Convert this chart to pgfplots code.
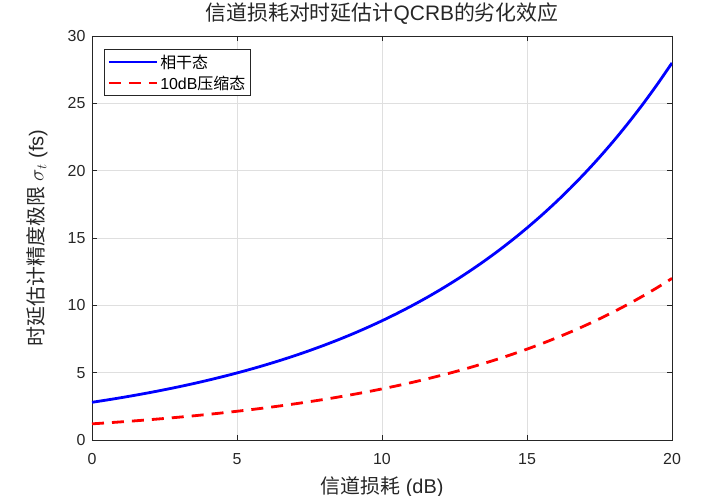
\documentclass[border=0pt]{standalone}
\usepackage{fontspec}
\setmainfont{Liberation Sans}
\newfontfamily\cjk{Noto Sans CJK SC}
\usepackage{pgfplots}
\pgfplotsset{compat=1.18}
\definecolor{axgray}{RGB}{38,38,38}
\definecolor{gridgray}{RGB}{223,223,223}
\pgfplotstableread{
x blue red
0 2.800 1.200
0.5 2.966 1.271
1 3.142 1.346
1.5 3.328 1.426
2 3.525 1.511
2.5 3.734 1.600
3 3.955 1.695
3.5 4.189 1.795
4 4.438 1.902
4.5 4.701 2.015
5 4.979 2.134
5.5 5.274 2.260
6 5.587 2.394
6.5 5.918 2.536
7 6.268 2.686
7.5 6.640 2.846
8 7.033 3.014
8.5 7.450 3.193
9 7.891 3.382
9.5 8.359 3.582
10 8.854 3.795
10.5 9.379 4.020
11 9.935 4.258
11.5 10.523 4.510
12 11.147 4.777
12.5 11.808 5.060
13 12.507 5.360
13.5 13.248 5.678
14 14.033 6.014
14.5 14.865 6.371
15 15.746 6.748
15.5 16.679 7.148
16 17.667 7.572
16.5 18.714 8.020
17 19.823 8.495
17.5 20.997 8.999
18 22.241 9.532
18.5 23.559 10.097
19 24.955 10.695
19.5 26.434 11.329
20 28.000 12.000
}\datatable
\begin{document}
\begin{tikzpicture}
\begin{axis}[name=ax, scale only axis, width=580bp, height=404bp,
  xmin=0, xmax=20, ymin=0, ymax=30,
  xtick={0,5,...,20}, ytick={0,5,...,30},
  tick align=inside, major tick length=5bp,
  axis line style={axgray, line width=0.6bp},
  tick style={axgray, line width=0.6bp},
  grid=major, grid style={gridgray, line width=0.6bp},
  ticklabel style={font=\fontsize{16}{18}\selectfont, text=axgray},
  xticklabel style={yshift=-10bp},
  yticklabel style={xshift=-3bp},
  /pgf/number format/assume math mode=true,
  title={{\cjk 信道损耗对时延估计}QCRB{\cjk 的劣化效应}},
  title style={font=\fontsize{21}{24}\selectfont, text=axgray, at={(axis description cs:0.5,1.04)}, anchor=center},
  xlabel={{\cjk 信道损耗} (dB)},
  xlabel style={font=\fontsize{20}{23}\selectfont, text=axgray, at={(axis description cs:0.5,-0.116)}, anchor=center},
  ylabel={{\cjk 时延估计精度极限} $\sigma_t$ (fs)},
  ylabel style={font=\fontsize{20}{23}\selectfont, text=axgray, at={(axis description cs:-0.095,0.5)}, anchor=center},
  legend style={at={(axis description cs:0.021,0.967)}, anchor=north west,
    draw=axgray, line width=0.6bp, fill=white, font=\fontsize{16}{18}\selectfont,
    inner sep=3bp, row sep=2bp},
  legend cell align=left,
  legend image code/.code={\draw[#1] (0bp,0bp) -- (48bp,0bp);},
]
\addplot[blue, line width=2.8bp, smooth] table[x=x, y=blue] {\datatable};
\addlegendentry{{\cjk 相干态}}
\addplot[red, line width=2.8bp, smooth, dash pattern=on 12bp off 8bp] table[x=x, y=red] {\datatable};
\addlegendentry{10dB{\cjk 压缩态}}
\end{axis}
\pgfresetboundingbox
\path ([shift={(-92bp,-56bp)}]ax.south west) rectangle ([shift={(45bp,36bp)}]ax.north east);
\end{tikzpicture}
\end{document}
